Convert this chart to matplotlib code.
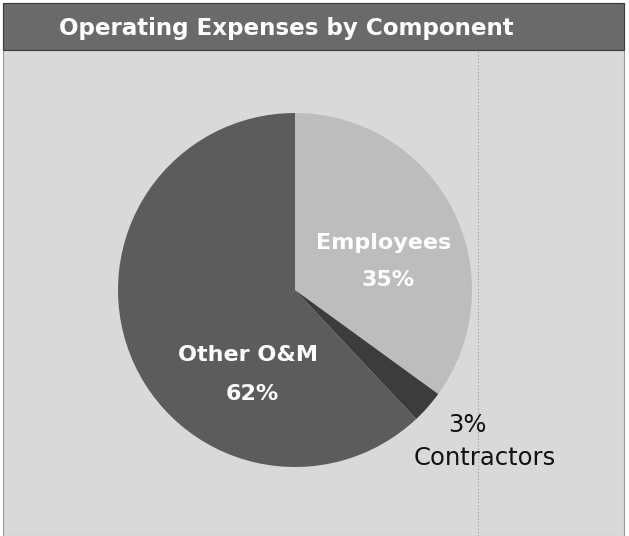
import matplotlib.pyplot as plt
from matplotlib.patches import Rectangle

title = "Operating Expenses by Component"
components = ["Employees", "Contractors", "Other O&M"]
shares = [35, 3, 62]
colors = ["#bdbdbd", "#3c3c3c", "#5c5c5c"]

W, H = 629, 536
fig = plt.figure(figsize=(W / 100, H / 100), dpi=100)
fig.patch.set_facecolor("white")
ax = fig.add_axes([0, 0, 1, 1])

# panel background and title bar
ax.add_patch(Rectangle((3, 0), 621, H - 3, facecolor="#d9d9d9", edgecolor="#9a9a9a", lw=0.8))
ax.add_patch(Rectangle((3, H - 50), 621, 47, facecolor="#6a6a6a", edgecolor="#3a3a3a", lw=0.8))
ax.text(59, H - 28, title, color="white", fontsize=16.6, fontweight="bold",
        family="DejaVu Sans", va="center", ha="left")
ax.plot([478, 478], [0, H - 50], color="#9a9a9a", lw=0.8, ls=(0, (1, 2)))

wedges, _ = ax.pie(shares, colors=colors, startangle=90, counterclock=False,
                   center=(295, H - 290), radius=177, frame=True,
                   wedgeprops=dict(linewidth=0))
ax.set_xlim(0, W)
ax.set_ylim(0, H)
ax.set_aspect("equal")
ax.axis("off")

lab = dict(family="DejaVu Sans", fontsize=16, ha="center", va="center",
           color="white", fontweight="bold")
ax.text(384, H - 243, components[0], **lab)
ax.text(388, H - 280, f"{shares[0]}%", **lab)
ax.text(248, H - 355, components[2], **lab)
ax.text(252, H - 394, f"{shares[2]}%", **lab)

small = dict(family="DejaVu Sans", fontsize=17.5, ha="center", va="center", color="#111111")
ax.text(467, H - 425, f"{shares[1]}%", **small)
ax.text(485, H - 458, components[1], **small)

fig.savefig("out.png", dpi=100)
